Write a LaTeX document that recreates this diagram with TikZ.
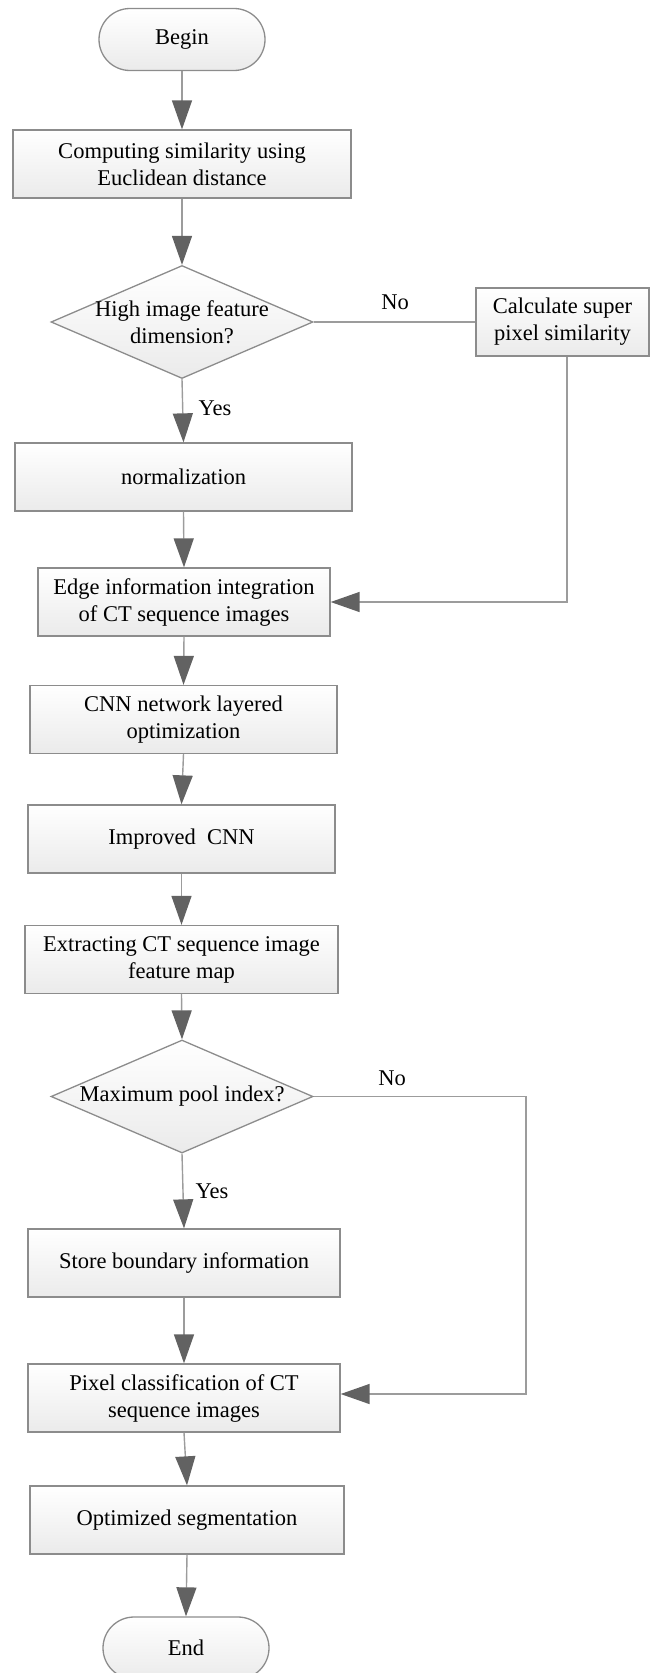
\documentclass[tikz,border=0pt]{standalone}
\usepackage{fontspec}
\setmainfont{Liberation Serif}
\usetikzlibrary{shapes.geometric,arrows.meta}
\definecolor{edgegray}{HTML}{8C8C8C}
\definecolor{linegray}{HTML}{9C9C9C}
\definecolor{tipgray}{HTML}{626262}
\begin{document}
\begin{tikzpicture}[x=1pt,y=-1pt,
  txt/.style={font=\fontsize{22.5}{27}\selectfont, align=center},
  procbox/.style={txt, draw=edgegray, line width=1.3pt, top color=white, bottom color=black!8,
    minimum height=68pt, inner sep=0pt, rectangle},
  termbox/.style={procbox, rounded corners=31pt, minimum height=62pt, minimum width=166pt},
  decbox/.style={diamond, draw=edgegray, line width=1.3pt, top color=white, bottom color=black!8,
    shape aspect=2.32, minimum width=262pt, minimum height=113pt, inner sep=0pt},
  conn/.style={draw=linegray, line width=1.4pt},
  arr/.style={conn, -{Triangle[length=29pt,width=20pt,fill=tipgray,color=tipgray]}},
  lbl/.style={font=\fontsize{22.5}{27}\selectfont}
]
\useasboundingbox (0,0) rectangle (649,1673);

\node[termbox] (begin) at (182,39.5) {Begin};
\node[procbox, minimum width=338pt] (comp) at (182,164) {Computing similarity using\\Euclidean distance};
\node[decbox, label={[txt]center:High image feature\\dimension?}] (dec1) at (182,322) {};
\node[procbox, minimum width=173pt] (calc) at (562.5,322) {Calculate super\\pixel similarity};
\node[procbox, minimum width=337pt] (norm) at (183.5,477) {normalization};
\node[procbox, minimum width=292pt] (edge) at (184,602) {Edge information integration\\of CT sequence images};
\node[procbox, minimum width=307pt] (cnn) at (183.5,719.5) {CNN network layered\\optimization};
\node[procbox, minimum width=307pt] (imp) at (181.5,839) {Improved\enspace CNN};
\node[procbox, minimum width=313pt] (ext) at (181.5,959.5) {Extracting CT sequence image\\feature map};
\node[decbox, label={[txt]center:Maximum pool index?}] (dec2) at (182,1096.5) {};
\node[procbox, minimum width=312pt] (store) at (184,1263) {Store boundary information};
\node[procbox, minimum width=312pt] (pix) at (184,1398) {Pixel classification of CT\\sequence images};
\node[procbox, minimum width=314pt] (opt) at (187,1520) {Optimized segmentation};
\node[termbox] (endn) at (186,1648) {End};

\coordinate (c1) at (567,602);
\coordinate (c2) at (526,1096.5);
\coordinate (c3) at (526,1394);

\draw[arr] (begin.south) -- (comp.north);
\draw[arr] (comp.south) -- (dec1.north);
\draw[arr] (dec1.south) -- (norm.north);
\draw[conn] (dec1.east) -- (calc.west);
\draw[arr] (calc.south -| c1) -- (c1) -- (edge.east);
\draw[arr] (norm.south) -- (edge.north);
\draw[arr] (edge.south) -- (cnn.north);
\draw[arr] (cnn.south) -- (imp.north);
\draw[arr] (imp.south) -- (ext.north);
\draw[arr] (ext.south) -- (dec2.north);
\draw[arr] (dec2.south) -- (store.north);
\draw[arr] (dec2.east) -- (c2) -- (c3) -- (pix.east |- c3);
\draw[arr] (store.south) -- (pix.north);
\draw[arr] (pix.south) -- (opt.north);
\draw[arr] (opt.south) -- (endn.north);

\node[lbl] (no1) at (395,302) {No};
\node[lbl] (yes1) at (215,408) {Yes};
\node[lbl] (no2) at (392,1078) {No};
\node[lbl] (yes2) at (212,1191) {Yes};
\end{tikzpicture}
\end{document}
